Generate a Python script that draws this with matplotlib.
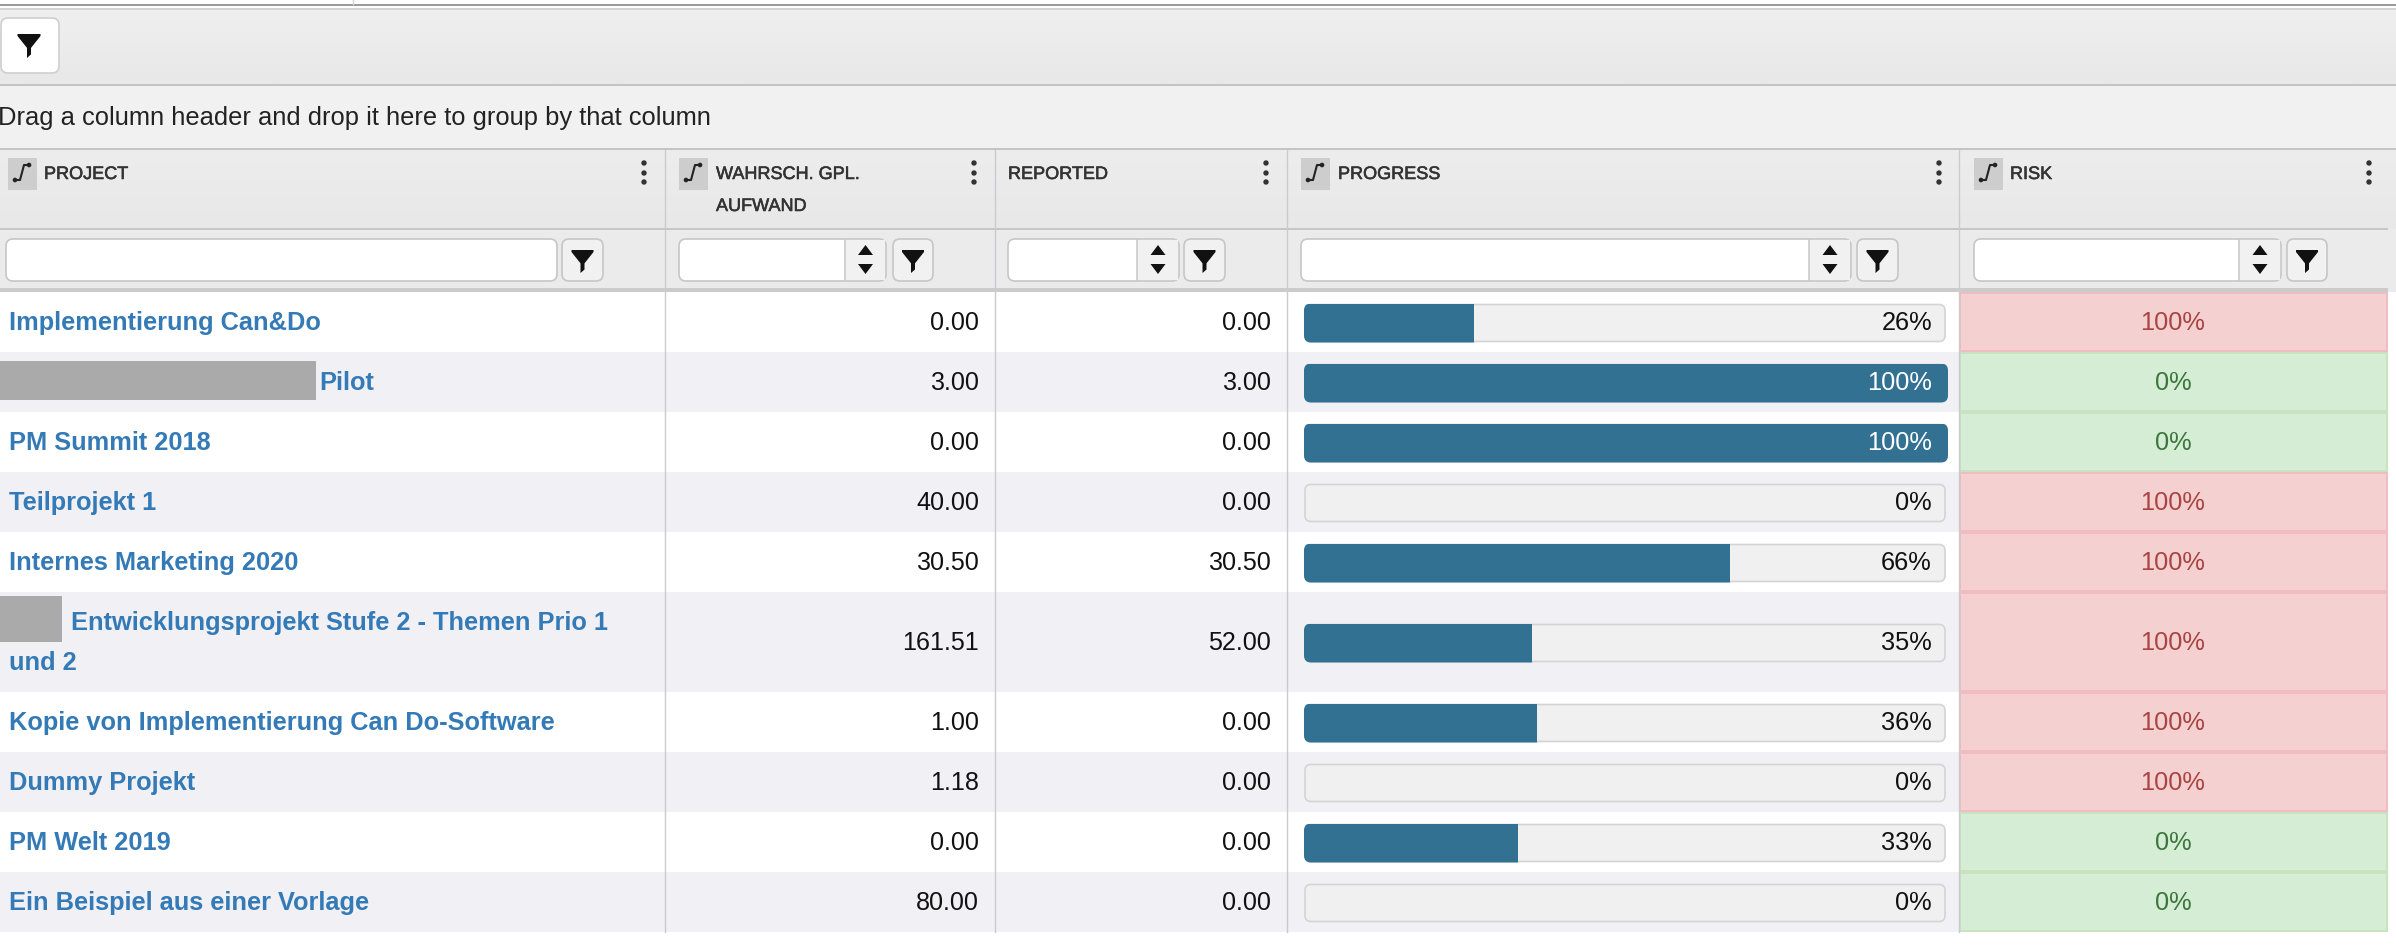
import matplotlib
matplotlib.use('Agg')
import matplotlib.pyplot as plt
import matplotlib.patheffects as pe
import numpy as np
from matplotlib.colors import to_rgb
from matplotlib.patches import Rectangle, FancyBboxPatch, Polygon, Circle

plt.rcParams['font.family'] = ['Liberation Sans', 'DejaVu Sans']

# table content
projects = ['Implementierung Can&Do', 'Pilot', 'PM Summit 2018', 'Teilprojekt 1',
            'Internes Marketing 2020', 'Entwicklungsprojekt Stufe 2 - Themen Prio 1\nund 2',
            'Kopie von Implementierung Can Do-Software', 'Dummy Projekt', 'PM Welt 2019',
            'Ein Beispiel aus einer Vorlage']
planned = [0.00, 3.00, 0.00, 40.00, 30.50, 161.51, 1.00, 1.18, 0.00, 80.00]
reported = [0.00, 3.00, 0.00, 0.00, 30.50, 52.00, 0.00, 0.00, 0.00, 0.00]
progress = [26.4, 100, 100, 0, 66.2, 35.4, 36.2, 0, 33.2, 0]
risk = [100, 0, 0, 100, 100, 100, 100, 100, 0, 0]

W, H = 2396, 946
row_edges = [292, 352, 412, 472, 532, 592, 692, 752, 812, 872, 932]
col_lines = [665, 995, 1287, 1959]

fig = plt.figure(figsize=(W / 100, H / 100), dpi=100)
ax = fig.add_axes([0, 0, 1, 1])

LINE = '#cbcbce'
BOX = '#c6c6c6'


def rect(x0, y0, x1, y1, color, z=1):
    ax.add_patch(Rectangle((x0, y0), x1 - x0, y1 - y0, fc=color, ec='none', zorder=z))


def gradient(y0, y1, c0, c1, x1=W):
    t = np.linspace(0, 1, 64)[:, None, None]
    img = (1 - t) * np.array(to_rgb(c0))[None, None, :] + t * np.array(to_rgb(c1))[None, None, :]
    ax.imshow(img, extent=[0, x1, y1, y0], aspect='auto', zorder=1, interpolation='bilinear')


def rbox(x0, y0, x1, y1, fc, ec, r=6, lw=1.2, z=3):
    p = FancyBboxPatch((x0, y0), x1 - x0, y1 - y0, boxstyle=f'round,pad=0,rounding_size={r}',
                       fc=fc, ec=ec, lw=lw, zorder=z)
    ax.add_patch(p)
    return p


def funnel(cx, top, h=24, w=22):
    pts = [(cx - w / 2, top), (cx + w / 2, top), (cx + w / 2, top + 2), (cx + 2, top + h * 0.58),
           (cx + 2, top + h * 0.85), (cx - 2, top + h), (cx - 2, top + h * 0.58), (cx - w / 2, top + 2)]
    ax.add_patch(Polygon(pts, fc='#111111', ec='none', zorder=5))


def sort_icon(x0):
    rect(x0, 158, x0 + 29, 190, '#cdcdcd', 2)
    ax.plot([x0 + 7, x0 + 12, x0 + 16, x0 + 22], [180, 180, 165, 165], color='#222222', lw=1.5, zorder=3)
    ax.add_patch(Circle((x0 + 7, 180), 2.3, fc='#222222', ec='none', zorder=3))
    ax.add_patch(Circle((x0 + 21, 165), 2.3, fc='#222222', ec='none', zorder=3))


def menu_dots(x):
    for y in (163, 173, 182):
        ax.add_patch(Circle((x, y), 2.7, fc='#333333', ec='none', zorder=3))


def filter_btn(x0, x1):
    rbox(x0, 239, x1, 281, '#f1f1f1', BOX, r=7)
    funnel((x0 + x1) / 2, 250, h=23, w=22)


def spinner(x0, x1, xdiv):
    rbox(x0, 239, x1, 281, 'white', BOX, r=7)
    ax.add_patch(Rectangle((xdiv, 240), x1 - xdiv - 1, 40, fc='#f1f1f1', ec='none', zorder=4))
    ax.plot([xdiv, xdiv], [240, 280], color=BOX, lw=1.1, zorder=4)
    cx = (xdiv + x1) / 2
    ax.add_patch(Polygon([(cx - 7.5, 255), (cx + 7.5, 255), (cx, 245)], fc='#111111', ec='none', zorder=5))
    ax.add_patch(Polygon([(cx - 7.5, 264), (cx + 7.5, 264), (cx, 274)], fc='#111111', ec='none', zorder=5))


# background bands
rect(0, 0, W, H, 'white', 0)
rect(0, 4, W, 6.5, '#9c9c9c', 1)
ax.plot([353, 353], [0, 4], color='#c9d6e4', lw=1.0, zorder=1)
rect(0, 8, W, 10, '#d4d4d4', 1)
gradient(10, 84, '#f0eff0', '#e9e8e9')
rect(0, 84, W, 86, '#c4c4c4', 2)
rect(0, 86, W, 148, '#f1f1f2', 1)
rect(0, 148, W, 150, '#c4c4c4', 2)
gradient(150, 229, '#eeedee', '#e9e8e9')
rect(0, 229, W, 291.5, '#ecebec', 1)
rect(0, 228, 2388, 230, '#c6c6c6', 2)
rect(0, 288, 2388, 291.5, '#cbcbcb', 2)

# toolbar
rbox(1, 18, 59, 73, 'white', '#cfcfcf', r=7)
funnel(29, 34, h=24, w=23)
ax.text(-2, 118.5, 'Drag a column header and drop it here to group by that column', fontsize=18.4,
        color='#222222', va='center', ha='left', zorder=5)

# header
sort_icon(8)
sort_icon(679)
sort_icon(1301)
sort_icon(1974)
header_kw = dict(fontsize=13, color='#333333', va='center', ha='left', zorder=5,
                 path_effects=[pe.withStroke(linewidth=0.4, foreground='#333333')])
ax.text(44, 174.5, 'PROJECT', **header_kw)
ax.text(716, 174.5, 'WAHRSCH. GPL.', **header_kw)
ax.text(716, 206.5, 'AUFWAND', **header_kw)
ax.text(1008, 174.5, 'REPORTED', **header_kw)
ax.text(1338, 174.5, 'PROGRESS', **header_kw)
ax.text(2010, 174.5, 'RISK', **header_kw)
for x in (644, 974, 1266, 1939, 2369):
    menu_dots(x)

# filter row
rbox(6, 239, 557, 281, 'white', BOX, r=7)
filter_btn(562, 603)
spinner(679, 886, 845)
filter_btn(893, 933)
spinner(1008, 1179, 1137)
filter_btn(1184, 1225)
spinner(1301, 1851, 1809)
filter_btn(1857, 1898)
spinner(1974, 2281, 2239)
filter_btn(2287, 2327)

# rows
track_x0, track_x1 = 1304, 1948
label_x = [9, 319, 9, 9, 9, 71, 9, 9, 9, 9]
for i, name in enumerate(projects):
    top, bottom = row_edges[i], row_edges[i + 1]
    mid = (top + bottom) / 2
    rect(0, top, 1959, bottom, 'white' if i % 2 == 0 else '#f0f0f5', 1)

    lines = name.split('\n')
    if len(lines) == 1:
        ax.text(label_x[i], mid + 0.5, name, fontsize=18.25, fontweight='bold', color='#337ab7',
                va='center', ha='left', zorder=5)
    else:
        ax.text(label_x[i], mid - 19, lines[0], fontsize=18.25, fontweight='bold', color='#337ab7',
                va='center', ha='left', zorder=5)
        ax.text(9, mid + 21, lines[1], fontsize=18.25, fontweight='bold', color='#337ab7',
                va='center', ha='left', zorder=5)

    ax.text(979, mid + 0.5, f'{planned[i]:.2f}', fontsize=18.1, color='#111111', va='center', ha='right', zorder=5)
    ax.text(1271, mid + 0.5, f'{reported[i]:.2f}', fontsize=18.1, color='#111111', va='center', ha='right', zorder=5)

    # progress bar
    bar_h = 38
    rbox(track_x0 + 1, mid + 1.5 - bar_h / 2, track_x1 - 3, mid + 0.5 + bar_h / 2, '#f0f0f0', '#d4d4d4', r=6, z=3)
    clip = FancyBboxPatch((track_x0, mid + 0.5 - bar_h / 2), track_x1 - track_x0, bar_h + 1,
                          boxstyle='round,pad=0,rounding_size=7', transform=ax.transData)
    bars = ax.barh(mid + 1, progress[i] / 100 * (track_x1 - track_x0), height=bar_h + 1, left=track_x0,
                   color='#327192', zorder=4)
    for b in bars:
        b.set_clip_path(clip)
    ax.text(1932, mid + 0.5, f'{progress[i]:.0f}%', fontsize=18.3, color='white' if progress[i] == 100 else '#111111',
            va='center', ha='right', zorder=6)

    # risk cell
    fc, ec, tc = ('#f4d0d0', '#f0bcc2', '#a94442') if risk[i] > 0 else ('#d4edd4', '#c9e2bf', '#3c763d')
    ax.add_patch(Rectangle((1960, top + 1), 2387 - 1960, bottom - top - 2, fc=fc, ec=ec, lw=1.4, zorder=2))
    ax.text(2173, mid + 0.5, f'{risk[i]}%', fontsize=18.3, color=tc, va='center', ha='center', zorder=5)

# column lines
for x in col_lines:
    ax.plot([x, x], [150, 932], color=LINE, lw=1.0, zorder=2.5)

# redacted parts
rect(0, 361, 316, 400, '#aaaaaa', 7)
rect(0, 596, 62, 642, '#aaaaaa', 7)

ax.set_xlim(0, W)
ax.set_ylim(H, 0)
ax.axis('off')

fig.savefig('out.png', dpi=100)
